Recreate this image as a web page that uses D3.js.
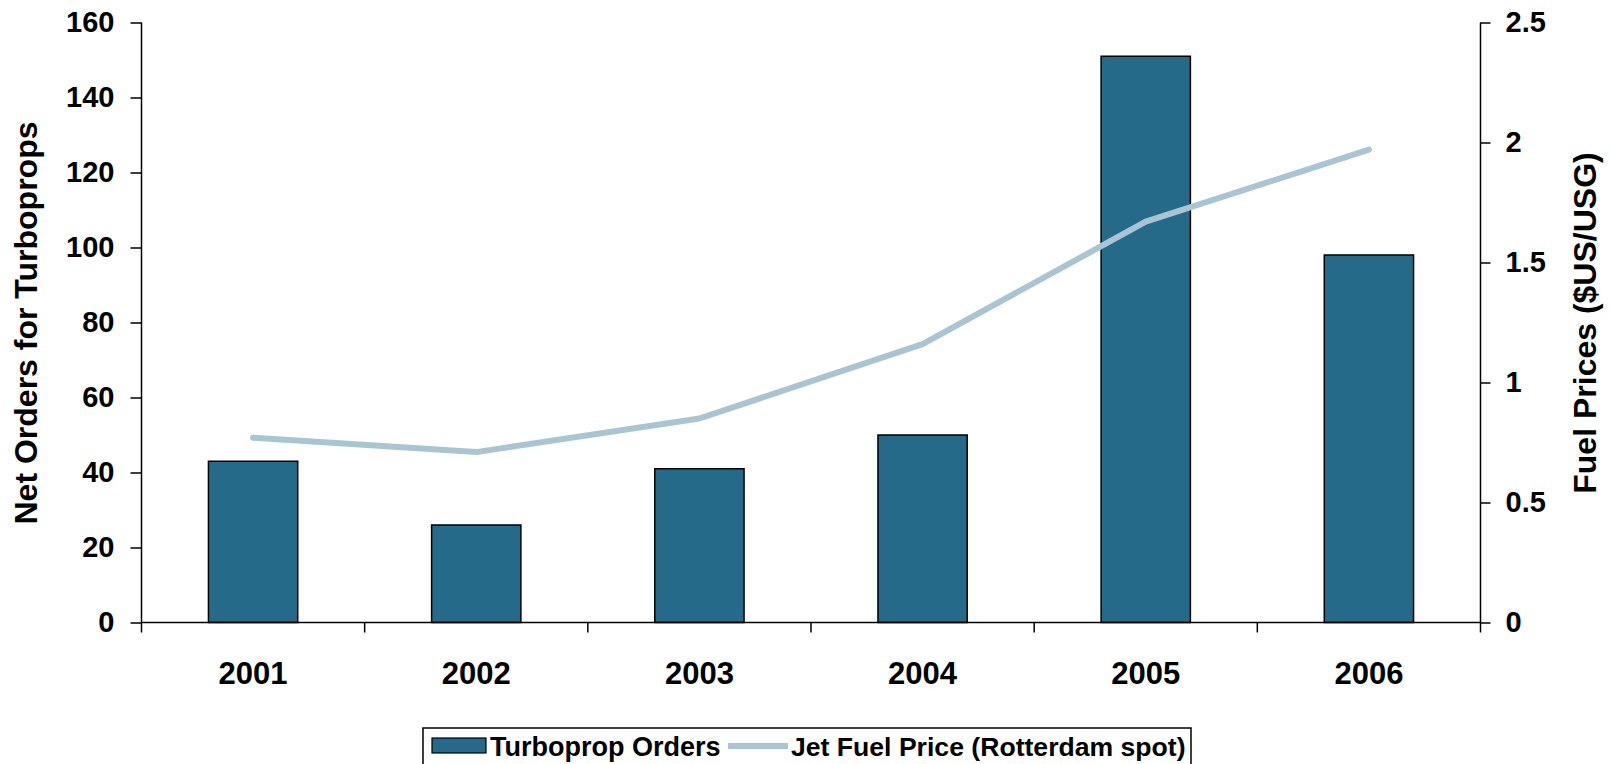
<!DOCTYPE html>
<html>
<head>
<meta charset="utf-8">
<script src="https://cdn.jsdelivr.net/npm/d3@7"></script>
<style>
  html, body { margin: 0; padding: 0; background: #fff; }
  svg { display: block; font-family: "Liberation Sans", Arial, sans-serif; font-weight: bold; }
</style>
</head>
<body>
<svg id="chart" width="1610" height="764"></svg>
<script>
// Net turboprop orders per year and the Rotterdam spot jet fuel price
const years = ["2001", "2002", "2003", "2004", "2005", "2006"];
const orders = [43, 26, 41, 50, 151, 98];
const fuelPrice = [0.77, 0.71, 0.85, 1.16, 1.67, 1.97];
const leftTicks = [0, 20, 40, 60, 80, 100, 120, 140, 160];
const rightTicks = [0, 0.5, 1, 1.5, 2, 2.5];
const seriesNames = ["Turboprop Orders", "Jet Fuel Price (Rotterdam spot)"];

const barColor = "#266a89";
const lineColor = "#a9c5d4";

const svg = d3.select("#chart");
const plot = { left: 141.5, right: 1480.5, top: 22.5, bottom: 622.5 };

const x = d3.scaleBand().domain(years).range([plot.left, plot.right])
  .paddingInner(0.6).paddingOuter(0.3);
const yL = d3.scaleLinear().domain([0, 160]).range([plot.bottom, plot.top]);
const yR = d3.scaleLinear().domain([0, 2.5]).range([plot.bottom, plot.top]);

// Bars
svg.append("g").selectAll("rect").data(years).join("rect")
  .attr("x", d => x(d))
  .attr("y", (d, i) => yL(orders[i]))
  .attr("width", x.bandwidth())
  .attr("height", (d, i) => yL(0) - yL(orders[i]))
  .attr("fill", barColor)
  .attr("stroke", "#000")
  .attr("stroke-width", 1.5);

// Fuel price line
const line = d3.line()
  .x((d, i) => x(years[i]) + x.bandwidth() / 2)
  .y(d => yR(d));
svg.append("path").datum(fuelPrice)
  .attr("d", line)
  .attr("fill", "none")
  .attr("stroke", lineColor)
  .attr("stroke-width", 6)
  .attr("stroke-linecap", "round")
  .attr("stroke-linejoin", "round");

// Left axis
const leftAxis = d3.axisLeft(yL).tickValues(leftTicks).tickSize(11).tickPadding(16);
const gL = svg.append("g").attr("transform", `translate(${plot.left},0)`).call(leftAxis);
gL.select(".domain").attr("d", `M0,${plot.top}V${plot.bottom}`);

// Right axis
const rightAxis = d3.axisRight(yR).tickValues(rightTicks).tickSize(10).tickPadding(15)
  .tickFormat(d3.format("~g"));
const gR = svg.append("g").attr("transform", `translate(${plot.right},0)`).call(rightAxis);
gR.select(".domain").attr("d", `M0,${plot.top}V${plot.bottom}`);

[gL, gR].forEach(g => {
  g.selectAll("path, line").attr("stroke", "#000").attr("stroke-width", 1.5);
  g.selectAll("text").attr("font-size", 29).attr("font-weight", "bold")
    .attr("fill", "#000").attr("font-family", "Liberation Sans, Arial, sans-serif");
});

// Category axis: baseline, boundary ticks, year labels
const gX = svg.append("g");
gX.append("line")
  .attr("x1", plot.left).attr("x2", plot.right)
  .attr("y1", plot.bottom).attr("y2", plot.bottom)
  .attr("stroke", "#000").attr("stroke-width", 1.5);
const bounds = d3.range(years.length + 1).map(i => plot.left + i * x.step());
gX.selectAll("line.tick").data(bounds).join("line")
  .attr("class", "tick")
  .attr("x1", d => d).attr("x2", d => d)
  .attr("y1", plot.bottom).attr("y2", plot.bottom + 10)
  .attr("stroke", "#000").attr("stroke-width", 1.5);
gX.selectAll("text").data(years).join("text")
  .attr("x", d => x(d) + x.bandwidth() / 2)
  .attr("y", 684)
  .attr("text-anchor", "middle")
  .attr("font-size", 31)
  .text(d => d);

// Axis titles
svg.append("text")
  .attr("transform", `translate(37,323) rotate(-90)`)
  .attr("text-anchor", "middle")
  .attr("font-size", 32)
  .text("Net Orders for Turboprops");
svg.append("text")
  .attr("transform", `translate(1596,323) rotate(-90)`)
  .attr("text-anchor", "middle")
  .attr("font-size", 32)
  .text("Fuel Prices ($US/USG)");

// Legend
const lg = svg.append("g");
lg.append("rect")
  .attr("x", 423).attr("y", 728).attr("width", 768).attr("height", 50)
  .attr("fill", "#fff").attr("stroke", "#000").attr("stroke-width", 1.5);
lg.append("rect")
  .attr("x", 432).attr("y", 738).attr("width", 54).attr("height", 15)
  .attr("fill", barColor).attr("stroke", "#000").attr("stroke-width", 1.2);
lg.append("text").attr("x", 490).attr("y", 756).attr("font-size", 27).text(seriesNames[0]);
lg.append("line")
  .attr("x1", 728).attr("x2", 788).attr("y1", 746).attr("y2", 746)
  .attr("stroke", lineColor).attr("stroke-width", 6);
lg.append("text").attr("x", 791).attr("y", 756).attr("font-size", 26.6).text(seriesNames[1]);
</script>
</body>
</html>
